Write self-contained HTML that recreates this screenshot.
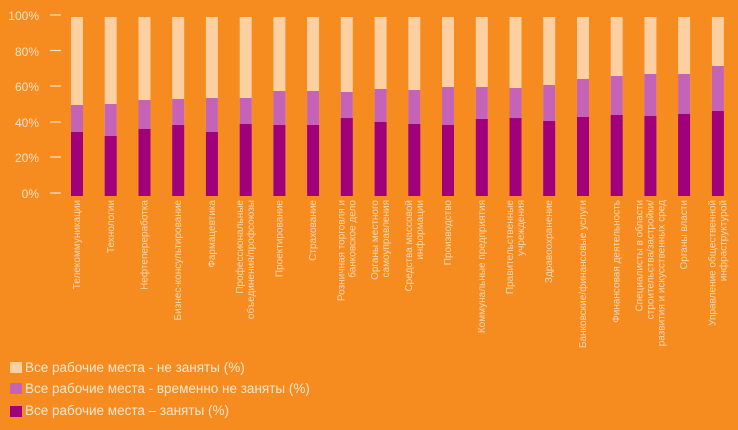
<!DOCTYPE html>
<html><head><meta charset="utf-8"><style>
html,body{margin:0;padding:0;background:#F68B1F;}
svg{display:block;font-family:"Liberation Sans",sans-serif;}
</style></head><body>
<svg width="738" height="430" viewBox="0 0 738 430" xmlns="http://www.w3.org/2000/svg">
<rect width="738" height="430" fill="#F68B1F"/>
<g fill="#FDE3C8" font-size="12" text-anchor="end">
<text x="39" y="20">100%</text><text x="39" y="56">80%</text><text x="39" y="91">60%</text>
<text x="39" y="127">40%</text><text x="39" y="162">20%</text><text x="39" y="198">0%</text>
</g>
<g stroke="#FDE3C8" stroke-width="1.2">
<line x1="50" x2="61" y1="15" y2="15"/><line x1="50" x2="61" y1="50.5" y2="50.5"/><line x1="50" x2="61" y1="86" y2="86"/>
<line x1="50" x2="61" y1="122" y2="122"/><line x1="50" x2="61" y1="157" y2="157"/><line x1="50" x2="61" y1="193" y2="193"/>
</g>
<g fill="#FDD0A2">
<rect x="71" y="17" width="12" height="179"/><rect x="104.7" y="17" width="12" height="179"/><rect x="138.5" y="17" width="12" height="179"/><rect x="172.2" y="17" width="12" height="179"/><rect x="205.9" y="17" width="12" height="179"/><rect x="239.7" y="17" width="12" height="179"/><rect x="273.4" y="17" width="12" height="179"/><rect x="307.1" y="17" width="12" height="179"/><rect x="340.8" y="17" width="12" height="179"/><rect x="374.6" y="17" width="12" height="179"/><rect x="408.3" y="17" width="12" height="179"/><rect x="442" y="17" width="12" height="179"/><rect x="475.8" y="17" width="12" height="179"/><rect x="509.5" y="17" width="12" height="179"/><rect x="543.2" y="17" width="12" height="179"/><rect x="577" y="17" width="12" height="179"/><rect x="610.7" y="17" width="12" height="179"/><rect x="644.4" y="17" width="12" height="179"/><rect x="678.1" y="17" width="12" height="179"/><rect x="711.9" y="17" width="12" height="179"/>
</g>
<g fill="#C563B8">
<rect x="71" y="105" width="12" height="91"/><rect x="104.7" y="104" width="12" height="92"/><rect x="138.5" y="100" width="12" height="96"/><rect x="172.2" y="99" width="12" height="97"/><rect x="205.9" y="98" width="12" height="98"/><rect x="239.7" y="98" width="12" height="98"/><rect x="273.4" y="91" width="12" height="105"/><rect x="307.1" y="91" width="12" height="105"/><rect x="340.8" y="92" width="12" height="104"/><rect x="374.6" y="89" width="12" height="107"/><rect x="408.3" y="90" width="12" height="106"/><rect x="442" y="87" width="12" height="109"/><rect x="475.8" y="87" width="12" height="109"/><rect x="509.5" y="88" width="12" height="108"/><rect x="543.2" y="85" width="12" height="111"/><rect x="577" y="79" width="12" height="117"/><rect x="610.7" y="76" width="12" height="120"/><rect x="644.4" y="74" width="12" height="122"/><rect x="678.1" y="74" width="12" height="122"/><rect x="711.9" y="66" width="12" height="130"/>
</g>
<g fill="#A0007A">
<rect x="71" y="132" width="12" height="64"/><rect x="104.7" y="136" width="12" height="60"/><rect x="138.5" y="129" width="12" height="67"/><rect x="172.2" y="125" width="12" height="71"/><rect x="205.9" y="132" width="12" height="64"/><rect x="239.7" y="124" width="12" height="72"/><rect x="273.4" y="125" width="12" height="71"/><rect x="307.1" y="125" width="12" height="71"/><rect x="340.8" y="118" width="12" height="78"/><rect x="374.6" y="122" width="12" height="74"/><rect x="408.3" y="124" width="12" height="72"/><rect x="442" y="125" width="12" height="71"/><rect x="475.8" y="119" width="12" height="77"/><rect x="509.5" y="118" width="12" height="78"/><rect x="543.2" y="121" width="12" height="75"/><rect x="577" y="117" width="12" height="79"/><rect x="610.7" y="115" width="12" height="81"/><rect x="644.4" y="116" width="12" height="80"/><rect x="678.1" y="114" width="12" height="82"/><rect x="711.9" y="111" width="12" height="85"/>
</g>
<g fill="#FDD9B5" font-size="10" text-anchor="end">
<text transform="translate(80,200) rotate(-90)">Телекоммуникации</text>
<text transform="translate(114,200) rotate(-90)">Технологии</text>
<text transform="translate(147.5,200) rotate(-90)">Нефтепереработка</text>
<text transform="translate(181.2,200) rotate(-90)">Бизнес-консультирование</text>
<text transform="translate(215,200) rotate(-90)">Фармацевтика</text>
<text transform="translate(243.2,200) rotate(-90)">Профессиональные</text>
<text transform="translate(254.2,200) rotate(-90)">объединения/профсоюзы</text>
<text transform="translate(282.4,200) rotate(-90)">Проектирование</text>
<text transform="translate(316.1,200) rotate(-90)">Страхование</text>
<text transform="translate(344.3,200) rotate(-90)">Розничная торговля и</text>
<text transform="translate(355.3,200) rotate(-90)">банковское дело</text>
<text transform="translate(378.1,200) rotate(-90)">Органы местного</text>
<text transform="translate(389.1,200) rotate(-90)">самоуправления</text>
<text transform="translate(411.8,200) rotate(-90)">Средства массовой</text>
<text transform="translate(422.8,200) rotate(-90)">информации</text>
<text transform="translate(451,200) rotate(-90)">Производство</text>
<text transform="translate(484.8,200) rotate(-90)">Коммунальные предприятия</text>
<text transform="translate(513,200) rotate(-90)">Правительственные</text>
<text transform="translate(524,200) rotate(-90)">учреждения</text>
<text transform="translate(552.2,200) rotate(-90)">Здравоохранение</text>
<text transform="translate(586,200) rotate(-90)">Банковские/финансовые услуги</text>
<text transform="translate(619.7,200) rotate(-90)">Финансовая деятельность</text>
<text transform="translate(642.4,200) rotate(-90)">Специалисты в области</text>
<text transform="translate(653.4,200) rotate(-90)">строительства/застройки/</text>
<text transform="translate(664.4,200) rotate(-90)">развития и искусственных сред</text>
<text transform="translate(687.1,200) rotate(-90)">Органы власти</text>
<text transform="translate(715.4,200) rotate(-90)">Управление общественной</text>
<text transform="translate(726.4,200) rotate(-90)">инфраструктурой</text>
</g>
<g font-size="13.5" fill="#FDE8D4">
<rect x="10" y="362" width="12" height="11" fill="#FDD0A2"/><text x="25" y="372">Все рабочие места - не заняты (%)</text>
<rect x="10" y="383" width="12" height="11" fill="#C563B8"/><text x="25" y="393">Все рабочие места - временно не заняты (%)</text>
<rect x="10" y="406" width="12" height="11" fill="#A0007A"/><text x="25" y="415">Все рабочие места –  заняты (%)</text>
</g>
</svg>
</body></html>
